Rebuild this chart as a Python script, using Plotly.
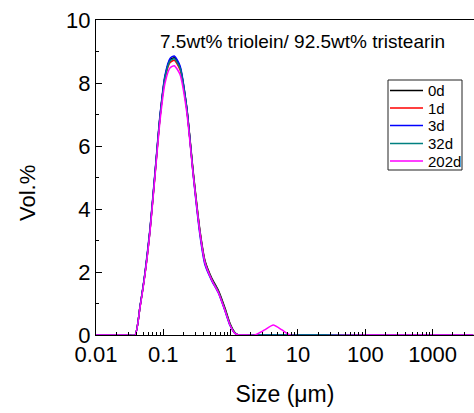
import plotly.graph_objects as go

# Particle sizes (µm)
size = [0.01, 0.02, 0.03, 0.038, 0.0451, 0.0535, 0.0634, 0.0753, 0.0893, 0.106,
        0.126, 0.1455, 0.177, 0.222, 0.279, 0.351, 0.417, 0.525, 0.656, 0.826,
        0.98, 1.16, 1.30, 1.6, 2.3, 3.2, 4.3, 5.8, 7.6, 100, 1000, 4000]

d0   = [0, 0, 0, 0, 0.9, 1.96, 3.33, 5.13, 6.93, 8.2,
        8.73, 8.8, 8.5, 7.25, 5.15, 3.3, 2.35, 1.8, 1.42, 0.85,
        0.36, 0.07, 0, 0, 0, 0, 0, 0, 0, 0, 0, 0]
d1   = [0, 0, 0, 0, 0.9, 1.96, 3.33, 5.1, 6.9, 8.15,
        8.65, 8.72, 8.42, 7.2, 5.1, 3.25, 2.3, 1.76, 1.38, 0.8,
        0.33, 0.06, 0, 0, 0, 0, 0, 0, 0, 0, 0, 0]
d3   = [0, 0, 0, 0, 0.92, 2.0, 3.38, 5.18, 6.98, 8.25,
        8.78, 8.86, 8.55, 7.25, 5.05, 3.15, 2.22, 1.72, 1.34, 0.76,
        0.3, 0.05, 0, 0, 0, 0, 0, 0, 0, 0, 0, 0]
d32  = [0, 0, 0, 0, 0.9, 1.96, 3.33, 5.12, 6.92, 8.18,
        8.7, 8.77, 8.47, 7.22, 5.1, 3.25, 2.3, 1.76, 1.38, 0.8,
        0.33, 0.06, 0, 0, 0, 0, 0, 0, 0, 0, 0, 0]
d202 = [0, 0, 0, 0, 0.88, 1.92, 3.28, 5.05, 6.8, 8.0,
        8.48, 8.55, 8.27, 7.1, 5.05, 3.22, 2.28, 1.74, 1.35, 0.77,
        0.31, 0.05, 0, 0, 0, 0.16, 0.32, 0.16, 0, 0, 0, 0]

series_names = ["0d", "1d", "3d", "32d", "202d"]
series_vals = [d0, d1, d3, d32, d202]
colors = ["#000000", "#ff0000", "#0000ff", "#008080", "#ff00ff"]

xtick_vals = [0.01, 0.1, 1, 10, 100, 1000]
xtick_text = ["0.01", "0.1", "1", "10", "100", "1000"]
ytick_vals = [0, 2, 4, 6, 8, 10]

minor_x = [m * 10 ** e for e in range(-2, 4) for m in range(2, 10)]

# plot area in pixels
L, R, T, B = 96, 474, 20, 335
W, H = R - L, B - T


def px(xp):
    return (xp - L) / W


def py(yp):
    return (B - yp) / H


fig = go.Figure()
for name, vals, c in zip(series_names, series_vals, colors):
    fig.add_trace(go.Scatter(x=size, y=vals, name=name, mode="lines", showlegend=False,
                             line=dict(color=c, width=1.5, shape="spline", smoothing=0.6)))

font = "Liberation Sans, Arial, sans-serif"

annotations = [
    dict(text="7.5wt% triolein/ 92.5wt% tristearin", x=px(302), y=py(41),
         xref="paper", yref="paper", showarrow=False, xanchor="center", yanchor="middle",
         font=dict(size=19, family=font)),
    dict(text="Vol.%", x=px(27), y=py(193), xref="paper", yref="paper", showarrow=False,
         textangle=-90, xanchor="center", yanchor="middle", font=dict(size=22, family=font)),
]
shapes = [dict(type="rect", xref="paper", yref="paper", x0=px(388), x1=px(462),
               y0=py(170), y1=py(80), line=dict(color="#222", width=1), fillcolor="white",
               layer="above")]
entry_y = [90.5, 108, 125.5, 143.5, 161]
for name, c, ey in zip(series_names, colors, entry_y):
    shapes.append(dict(type="line", xref="paper", yref="paper", x0=px(390), x1=px(423),
                       y0=py(ey), y1=py(ey), line=dict(color=c, width=1.5), layer="above"))
    annotations.append(dict(text=name, x=px(426), y=py(ey), xref="paper", yref="paper",
                            showarrow=False, xanchor="left", yanchor="middle",
                            font=dict(size=15, family=font)))

fig.update_layout(
    width=474, height=413,
    margin=dict(l=L, r=0, t=T, b=413 - B),
    paper_bgcolor="white", plot_bgcolor="white",
    font=dict(family=font, color="black"),
    showlegend=False,
    annotations=annotations,
    shapes=shapes,
)

fig.update_xaxes(type="log", range=[-2, 3.615],
                 tickvals=xtick_vals, ticktext=xtick_text,
                 ticks="inside", ticklen=6, tickwidth=1, tickcolor="black",
                 minor=dict(tickvals=minor_x, ticks="inside", ticklen=3, tickcolor="black"),
                 showline=True, linecolor="black", linewidth=1, mirror=True,
                 showgrid=False, zeroline=False,
                 tickfont=dict(size=22, family=font),
                 title=dict(text="Size (\u03bcm)", font=dict(size=23, family=font), standoff=19))
fig.update_yaxes(range=[0, 10], tickvals=ytick_vals,
                 ticks="inside", ticklen=6, tickwidth=1, tickcolor="black",
                 minor=dict(dtick=1, ticks="inside", ticklen=3, tickcolor="black"),
                 showline=True, linecolor="black", linewidth=1, mirror=False,
                 showgrid=False, zeroline=False,
                 tickfont=dict(size=22, family=font))

fig.write_html("out.html")
